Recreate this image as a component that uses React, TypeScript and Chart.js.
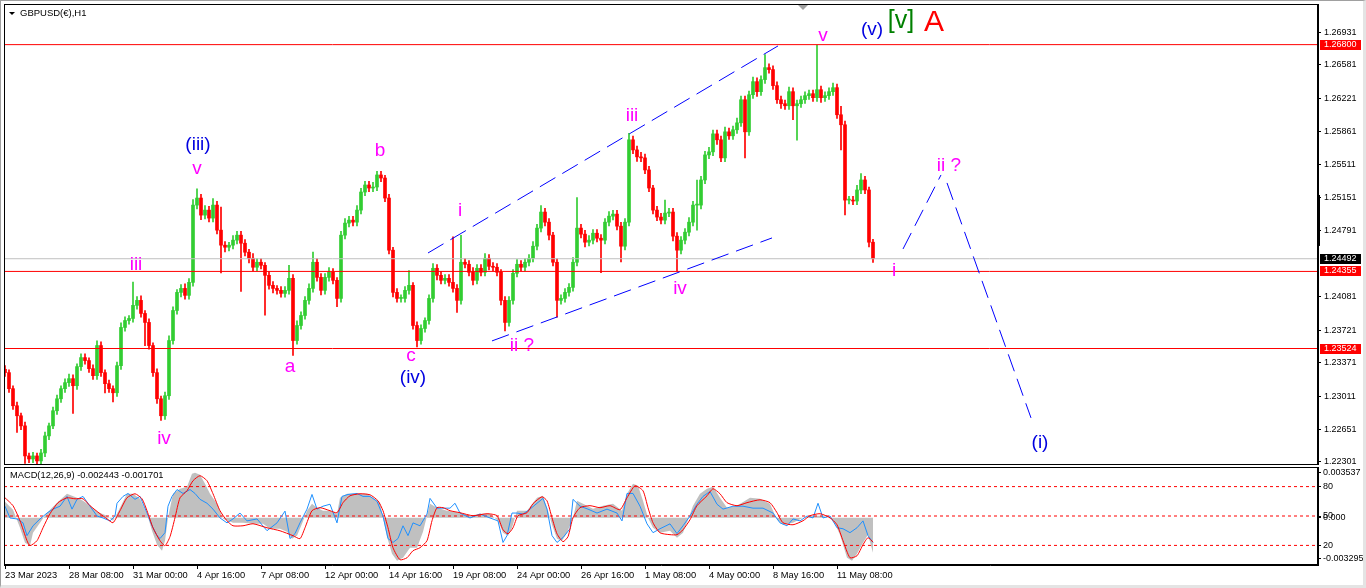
import React, { useEffect, useRef } from 'react';
import { Chart, registerables } from 'chart.js';

Chart.register(...registerables);

const UI_FONT = "'Liberation Sans', Arial, Helvetica, sans-serif";

// ---------------- price data (4-hour candles, hour offset = index * HOURS_PER_BAR) ----------------
const HOURS_PER_BAR = 4;
const PIP = 0.0001;
const firstOpen = 1.233;
const closes = [
  1.23264, 1.23091, 1.22907, 1.22799, 1.2269, 1.22366, 1.22333, 1.22366, 1.22312, 1.22398,
  1.22582, 1.2269, 1.22853, 1.22982, 1.23091, 1.23156, 1.23199, 1.23123, 1.23329, 1.23426,
  1.23394, 1.23307, 1.23231, 1.23556, 1.23264, 1.23145, 1.23091, 1.23047, 1.23339, 1.23751,
  1.23826, 1.23848, 1.23989, 1.24043, 1.23902, 1.23805, 1.23556, 1.23264, 1.22982, 1.22799,
  1.23015, 1.2361, 1.23934, 1.24129, 1.24172, 1.24097, 1.24237, 1.2507, 1.25146, 1.24962,
  1.25016, 1.2493, 1.2507, 1.248, 1.24638, 1.24616, 1.24638, 1.24692, 1.24746, 1.24659,
  1.24562, 1.24497, 1.244, 1.24454, 1.24421, 1.24313, 1.24205, 1.24172, 1.24151, 1.24118,
  1.24151, 1.24281, 1.2361, 1.23772, 1.2388, 1.24043, 1.24172, 1.24454, 1.24291, 1.24151,
  1.24291, 1.24346, 1.24259, 1.24064, 1.24746, 1.24876, 1.24908, 1.24886, 1.25016, 1.25211,
  1.25287, 1.25254, 1.25265, 1.25395, 1.25362, 1.25146, 1.24584, 1.24129, 1.24064, 1.24064,
  1.24151, 1.24205, 1.23772, 1.2361, 1.2374, 1.23826, 1.24064, 1.24389, 1.24313, 1.24259,
  1.24281, 1.24237, 1.24172, 1.24043, 1.24454, 1.24432, 1.24346, 1.24259, 1.24389, 1.24346,
  1.24497, 1.2441, 1.244, 1.24346, 1.24043, 1.23805, 1.24043, 1.24335, 1.24432, 1.244,
  1.24454, 1.24497, 1.24627, 1.24822, 1.24995, 1.24886, 1.24746, 1.24454, 1.24043, 1.24064,
  1.24129, 1.24183, 1.24454, 1.24822, 1.24757, 1.2467, 1.24692, 1.24767, 1.24713, 1.24692,
  1.24886, 1.24951, 1.24973, 1.24843, 1.24627, 1.24886, 1.25774, 1.25665, 1.2559, 1.25579,
  1.25449, 1.25254, 1.25016, 1.24941, 1.24908, 1.24984, 1.24995, 1.24735, 1.24584, 1.24692,
  1.24778, 1.24886, 1.2507, 1.2507, 1.25341, 1.25611, 1.25644, 1.25838, 1.25774, 1.25579,
  1.2586, 1.25817, 1.25882, 1.25957, 1.26206, 1.2586, 1.2626, 1.26401, 1.26293, 1.26423,
  1.26552, 1.26531, 1.26358, 1.26206, 1.26163, 1.26141, 1.26293, 1.26141, 1.26163, 1.26206,
  1.2625, 1.26271, 1.26228, 1.26314, 1.26228, 1.2625, 1.26293, 1.26336, 1.26044, 1.25936,
  1.25124, 1.25124, 1.25114, 1.25233, 1.25341, 1.25233, 1.2467, 1.24492,
];
const upWickPips = [
  4, 3, 3, 4, 3, 4, 3, 4, 3, 4,
  4, 3, 4, 4, 3, 4, 5, 4, 3, 4,
  4, 3, 4, 5, 4, 3, 4, 3, 4, 5,
  4, 3, 25, 4, 5, 3, 4, 3, 4, 3,
  4, 5, 4, 3, 4, 5, 4, 6, 10, 4,
  5, 4, 7, 4, 25, 4, 3, 5, 4, 4,
  4, 3, 5, 4, 4, 3, 4, 4, 3, 4,
  4, 14, 4, 5, 4, 4, 5, 11, 4, 4,
  4, 5, 4, 3, 4, 5, 4, 4, 5, 4,
  4, 4, 5, 4, 4, 3, 4, 3, 4, 4,
  4, 16, 3, 4, 4, 3, 4, 5, 4, 4,
  4, 4, 49, 4, 29, 4, 4, 5, 4, 4,
  5, 4, 4, 4, 3, 4, 4, 4, 5, 4,
  4, 4, 5, 4, 7, 4, 4, 3, 4, 4,
  4, 4, 5, 33, 4, 4, 5, 4, 4, 4,
  4, 5, 4, 4, 4, 4, 7, 4, 4, 5,
  4, 4, 3, 4, 4, 14, 4, 4, 4, 4,
  4, 5, 4, 27, 4, 4, 5, 4, 4, 4,
  5, 4, 4, 5, 4, 4, 4, 5, 4, 4,
  14, 4, 4, 4, 4, 4, 5, 4, 4, 4,
  4, 4, 4, 48, 4, 4, 4, 5, 4, 9,
  4, 4, 4, 5, 7, 4, 3, 3,
];
const downWickPips = [
  4, 4, 4, 18, 4, 8, 4, 4, 4, 4,
  4, 4, 3, 4, 4, 4, 4, 30, 4, 4,
  4, 4, 4, 4, 4, 10, 4, 10, 4, 4,
  4, 4, 4, 4, 4, 25, 4, 4, 5, 5,
  4, 4, 4, 4, 5, 4, 4, 4, 4, 5,
  4, 4, 4, 4, 30, 5, 4, 4, 4, 52,
  4, 5, 4, 4, 4, 43, 4, 5, 4, 4,
  4, 4, 16, 4, 4, 4, 4, 4, 4, 5,
  4, 4, 4, 9, 4, 4, 4, 4, 4, 4,
  4, 4, 4, 4, 4, 4, 4, 5, 4, 4,
  4, 4, 4, 7, 4, 4, 4, 4, 5, 4,
  4, 4, 4, 13, 4, 4, 4, 5, 4, 4,
  4, 4, 4, 4, 5, 9, 4, 4, 4, 4,
  4, 4, 4, 4, 4, 4, 5, 4, 18, 4,
  4, 4, 4, 4, 4, 5, 4, 4, 4, 35,
  4, 4, 4, 4, 17, 4, 4, 4, 5, 4,
  4, 4, 4, 4, 4, 4, 4, 5, 22, 4,
  4, 4, 4, 27, 4, 4, 4, 4, 5, 4,
  4, 4, 4, 4, 4, 28, 4, 4, 5, 4,
  4, 4, 4, 4, 5, 4, 4, 15, 37, 4,
  4, 4, 4, 4, 5, 4, 4, 4, 4, 27,
  16, 4, 4, 4, 4, 4, 5, 4,
];

// right price axis
const priceTicks = [1.26931, 1.26581, 1.26221, 1.25861, 1.25511, 1.25151, 1.24791, 1.24081, 1.23721, 1.23371, 1.23011, 1.22651, 1.22301];
const levelPrices = [1.268, 1.24355, 1.23524];
const bidPrice = 1.24492;
const axisMarkerPrices = [1.2463, 1.25179];

// time axis (hour offsets from the first bar)
const timeTickHours = [0, 64, 128, 192, 256, 320, 384, 448, 512, 576, 640, 704, 768, 832];
const timeTickLabels = ['23 Mar 2023', '28 Mar 08:00', '31 Mar 00:00', '4 Apr 16:00', '7 Apr 08:00', '12 Apr 00:00', '14 Apr 16:00', '19 Apr 08:00', '24 Apr 00:00', '26 Apr 16:00', '1 May 08:00', '4 May 00:00', '8 May 16:00', '11 May 08:00'];

// trend / projection lines
const upperChannelHours = [423, 773];
const upperChannelPrices = [1.24554, 1.26786];
const lowerChannelHours = [487, 767];
const lowerChannelPrices = [1.23606, 1.24716];
const projectionUpHours = [898, 936];
const projectionUpPrices = [1.24597, 1.25395];
const projectionDownHours = [942, 1026];
const projectionDownPrices = [1.25309, 1.22776];

// Elliott wave labels
const waveLabelTexts = ['(iii)', 'v', 'iii', 'iv', 'b', 'a', 'c', '(iv)', 'i', 'ii ?', 'iii', 'iv', 'v', '(v)', '[v]', 'A', 'i', 'ii ?', '(i)'];
const waveLabelHours = [193, 192, 131, 159, 375, 285, 406, 408, 455, 517, 627, 675, 818, 867, 896, 929, 889, 944, 1035];
const waveLabelPrices = [1.25718, 1.2546, 1.24425, 1.22549, 1.25654, 1.23325, 1.23444, 1.23207, 1.25007, 1.23552, 1.26031, 1.24166, 1.26893, 1.26958, 1.27055, 1.27033, 1.2436, 1.25492, 1.22506];
const waveLabelDegrees = ['minor', 'minute', 'minute', 'minute', 'minute', 'minute', 'minute', 'minor', 'minute', 'minute', 'minute', 'minute', 'minute', 'minor', 'intermediate', 'primary', 'minute', 'minute', 'minor'];

// ---------------- MACD sub-window ----------------
const histHours = [0, 8, 15, 20, 25, 28, 35, 42, 52, 62, 72, 78, 85, 92, 102, 108, 113, 122, 128, 135, 142, 147, 152, 157, 160, 163, 168, 175, 182, 187, 190, 195, 200, 205, 212, 218, 228, 238, 248, 258, 265, 275, 282, 287, 292, 297, 302, 307, 312, 318, 325, 332, 335, 342, 348, 355, 362, 368, 375, 378, 382, 387, 392, 398, 405, 412, 418, 425, 432, 442, 455, 465, 475, 485, 493, 498, 503, 507, 512, 522, 532, 538, 543, 547, 552, 557, 562, 568, 572, 578, 588, 598, 608, 617, 622, 628, 633, 638, 643, 648, 655, 665, 672, 678, 683, 688, 695, 702, 708, 715, 722, 732, 745, 755, 765, 772, 778, 788, 798, 808, 818, 828, 835, 842, 847, 852, 858, 863, 868];
const histValues = [0.00112, 0.00056, -0.0007, -0.00174, -0.00195, -0.00105, -0.00035, 0.00035, 0.00105, 0.00167, 0.00139, 0.00118, 0.00084, 0.00042, 0.00014, -0.00021, 0.00042, 0.00167, 0.00167, 0.00132, 0.00028, -0.00091, -0.00188, -0.0023, -0.0016, 0, 0.00167, 0.00202, 0.00216, 0.00307, 0.00314, 0.003, 0.00237, 0.00167, 0.00098, -0.00007, -0.00035, -0.00035, -0.00042, -0.00042, -0.00077, -0.00077, -0.00098, -0.00146, -0.00125, -0.00042, 0.00049, 0.00098, 0.0007, 0.00049, 0.00049, 0.00028, 0.00139, 0.00167, 0.00167, 0.00167, 0.00167, 0.00139, 0.00105, 0, -0.00132, -0.00251, -0.003, -0.00279, -0.00209, -0.00209, -0.00098, 0.00098, 0.0007, 0.00049, 0.00035, 0.00014, 0.00028, 0.00028, -0.00021, -0.00105, -0.00125, -0.0007, 0.00049, 0.00049, 0.00139, 0.00153, 0.00049, -0.00049, -0.00146, -0.0016, -0.00105, 0, 0.00118, 0.00098, 0.00063, 0.00084, 0.00098, 0.00049, 0.00167, 0.00237, 0.00223, 0.00118, 0, -0.0007, -0.00105, -0.00091, -0.00139, -0.00105, -0.00014, 0.00084, 0.00167, 0.00202, 0.00216, 0.00139, 0.0007, 0.00084, 0.00139, 0.00132, 0.00098, -0.00014, -0.00049, -0.00035, 0, 0.00014, 0.00014, -0.00014, -0.00118, -0.00279, -0.003, -0.00251, -0.00174, -0.00118, -0.002443];
const signalHours = [0, 8, 15, 22, 25, 32, 38, 45, 53, 62, 70, 78, 85, 95, 102, 108, 115, 122, 130, 137, 142, 148, 155, 160, 165, 170, 175, 182, 188, 195, 202, 208, 215, 222, 228, 238, 248, 262, 275, 288, 295, 300, 307, 315, 325, 332, 338, 345, 355, 365, 373, 378, 383, 388, 395, 402, 408, 415, 422, 427, 432, 438, 445, 455, 468, 482, 492, 498, 503, 508, 513, 522, 528, 537, 542, 547, 552, 558, 563, 568, 575, 585, 595, 605, 615, 622, 630, 638, 643, 648, 655, 665, 672, 678, 685, 692, 702, 708, 715, 722, 732, 742, 755, 765, 772, 778, 788, 798, 805, 815, 825, 832, 838, 845, 852, 858, 863, 868];
const signalValues = [0.00139, 0.00084, -0.00021, -0.0016, -0.00195, -0.0016, -0.0007, 0.00028, 0.00105, 0.00139, 0.00132, 0.00132, 0.00084, 0.00028, -0.00007, -0.00035, 0.00049, 0.00139, 0.00167, 0.00132, 0.00049, -0.0007, -0.0016, -0.00195, -0.00132, 0, 0.00139, 0.00188, 0.00258, 0.00293, 0.00258, 0.00167, 0.00049, -0.00021, -0.00056, -0.00056, -0.00042, -0.0007, -0.00091, -0.00125, -0.00146, -0.0007, 0.00049, 0.0007, 0.00049, 0.00035, 0.00105, 0.00153, 0.00167, 0.0016, 0.00118, 0.00049, -0.0007, -0.00209, -0.00293, -0.00279, -0.0023, -0.00209, -0.0016, -0.00021, 0.0007, 0.0007, 0.00049, 0.00035, 0.00014, 0.00028, 0.00014, -0.00084, -0.00112, -0.0007, 0.00014, 0.00035, 0.00098, 0.00146, 0.00118, 0, -0.00112, -0.00167, -0.00132, 0, 0.0007, 0.00084, 0.0007, 0.00084, 0.00056, 0.00139, 0.00223, 0.00188, 0.0007, -0.00035, -0.00105, -0.00118, -0.00118, -0.00084, -0.00014, 0.00084, 0.00153, 0.00202, 0.00167, 0.00105, 0.00084, 0.00105, 0.00125, 0.00105, 0.00035, -0.00035, -0.00049, -0.00021, 0.00014, 0.00028, 0, -0.00049, -0.0016, -0.00279, -0.00265, -0.00188, -0.00139, -0.001701];
const oscHours = [0, 5, 12, 18, 22, 28, 35, 42, 48, 55, 62, 67, 72, 78, 85, 92, 98, 105, 110, 112, 118, 123, 130, 135, 142, 147, 152, 155, 160, 163, 167, 172, 178, 185, 190, 195, 202, 208, 215, 222, 228, 235, 242, 252, 262, 272, 280, 285, 290, 295, 302, 307, 312, 318, 325, 332, 337, 343, 352, 358, 365, 372, 378, 383, 388, 393, 398, 403, 408, 415, 422, 425, 432, 438, 445, 450, 455, 465, 475, 485, 493, 498, 502, 507, 512, 518, 525, 532, 538, 542, 547, 552, 558, 565, 568, 575, 583, 592, 602, 612, 617, 622, 628, 635, 642, 648, 655, 665, 672, 678, 685, 692, 698, 705, 712, 718, 728, 738, 748, 758, 768, 775, 782, 788, 795, 802, 808, 813, 818, 825, 832, 838, 845, 852, 858, 863, 868];
const oscValues = [60, 48, 47, 43, 30, 40, 47, 53, 57, 60, 70, 57, 67, 70, 60, 50, 48, 45, 50, 63, 70, 73, 67, 70, 53, 40, 30, 27, 33, 60, 70, 77, 73, 77, 73, 67, 63, 57, 48, 43, 47, 53, 45, 47, 35, 43, 55, 27, 32, 43, 57, 72, 57, 60, 62, 43, 70, 72, 73, 70, 70, 65, 50, 27, 23, 27, 40, 30, 43, 40, 52, 68, 58, 58, 58, 63, 53, 48, 52, 48, 45, 23, 30, 53, 53, 52, 57, 63, 68, 57, 30, 23, 28, 37, 67, 60, 57, 53, 57, 53, 45, 73, 73, 60, 42, 33, 37, 42, 32, 40, 50, 62, 70, 75, 62, 57, 60, 60, 58, 58, 53, 43, 40, 47, 45, 50, 48, 63, 48, 50, 38, 37, 33, 38, 45, 30, 23];
const oscLevels = [80, 50, 20];
const subTickValues = [94, 80, 50, 48.2, 20, 7];
const subTickLabels = ['0.003537', '80', '50', '0.000', '20', '-0.003295'];

// ---------------- layout constants ----------------
const X_MIN = -1;
const X_MAX = 1313;
const Y_MIN = 1.22279;
const Y_MAX = 1.27238;
const MACD_MIN = -0.003295;
const MACD_MAX = 0.003537;
const BULL = '#32CD32';
const BEAR = '#FF0000';

const degreeStyle: Record<string, { color: string; size: number }> = {
  minute: { color: '#FF00FF', size: 19 },
  minor: { color: '#0000E0', size: 19 },
  intermediate: { color: '#008000', size: 25 },
  primary: { color: '#FF0000', size: 30 },
};

function pairs(xs: number[], ys: number[]) {
  return xs.map((x, i) => ({ x, y: ys[i] }));
}

function hLine(y: number, color: string, axis: string, dash: number[], order: number) {
  return {
    type: 'line' as const,
    data: [{ x: X_MIN, y }, { x: X_MAX, y }],
    borderColor: color,
    borderWidth: 1,
    borderDash: dash,
    pointRadius: 0,
    yAxisID: axis,
    order,
  };
}

function trend(xs: number[], ys: number[]) {
  return {
    type: 'line' as const,
    data: pairs(xs, ys),
    borderColor: '#0000FF',
    borderWidth: 1,
    borderDash: [18, 8],
    pointRadius: 0,
    yAxisID: 'y',
    order: 1,
  };
}

function buildCandles() {
  const bodies: any[] = [];
  const wicks: any[] = [];
  const colors: string[] = [];
  let open = firstOpen;
  closes.forEach((c, i) => {
    const x = i * HOURS_PER_BAR;
    const hi = Math.max(open, c) + upWickPips[i] * PIP;
    const lo = Math.min(open, c) - downWickPips[i] * PIP;
    bodies.push({ x, y: [open, c] });
    wicks.push({ x, y: [lo, hi] });
    colors.push(c >= open ? BULL : BEAR);
    open = c;
  });
  return { bodies, wicks, colors };
}

function noEdgePadding(s: any) {
  s.paddingTop = 0;
  s.paddingBottom = 0;
  s.paddingLeft = 0;
  s.paddingRight = 0;
}

const mainDecor = {
  id: 'mainDecor',
  afterDatasetsDraw(chart: any) {
    const { ctx, scales } = chart;
    ctx.save();
    ctx.textAlign = 'center';
    ctx.textBaseline = 'middle';
    waveLabelTexts.forEach((t, i) => {
      const st = degreeStyle[waveLabelDegrees[i]];
      ctx.fillStyle = st.color;
      ctx.font = `${st.size}px ${UI_FONT}`;
      ctx.fillText(t, scales.x.getPixelForValue(waveLabelHours[i]), scales.y.getPixelForValue(waveLabelPrices[i]));
    });
    ctx.restore();
  },
  afterDraw(chart: any) {
    const { ctx, chartArea: a, scales } = chart;
    ctx.save();
    // frame
    ctx.strokeStyle = '#000';
    ctx.lineWidth = 1;
    ctx.strokeRect(a.left + 0.5, a.top + 0.5, a.right - a.left - 1, a.bottom - a.top);
    // title
    ctx.fillStyle = '#000';
    ctx.beginPath();
    ctx.moveTo(a.left + 5, a.top + 8);
    ctx.lineTo(a.left + 11, a.top + 8);
    ctx.lineTo(a.left + 8, a.top + 11);
    ctx.closePath();
    ctx.fill();
    ctx.font = `9.5px ${UI_FONT}`;
    ctx.textBaseline = 'middle';
    ctx.textAlign = 'left';
    ctx.fillText('GBPUSD(€),H1', a.left + 16, a.top + 9.5);
    // shift marker
    const sx = scales.x.getPixelForValue(798);
    ctx.fillStyle = '#A0A0A0';
    ctx.beginPath();
    ctx.moveTo(sx - 5, a.top + 1);
    ctx.lineTo(sx + 5, a.top + 1);
    ctx.lineTo(sx, a.top + 6);
    ctx.closePath();
    ctx.fill();
    // axis marker bar
    const y1 = scales.y.getPixelForValue(axisMarkerPrices[1]);
    const y2 = scales.y.getPixelForValue(axisMarkerPrices[0]);
    ctx.fillStyle = '#000';
    ctx.fillRect(a.right - 1, y1, 3, y2 - y1);
    // price boxes
    const boxes = [...levelPrices.map((p) => ({ p, bg: '#FF0000' })), { p: bidPrice, bg: '#000000' }];
    ctx.font = `9px ${UI_FONT}`;
    boxes.forEach(({ p, bg }) => {
      const y = Math.round(scales.y.getPixelForValue(p));
      ctx.fillStyle = bg;
      ctx.fillRect(a.right + 2, y - 5, 41, 10);
      ctx.fillStyle = '#FFFFFF';
      ctx.fillText(p.toFixed(5), a.right + 6, y);
    });
    ctx.restore();
  },
};

const subDecor = {
  id: 'subDecor',
  afterDraw(chart: any) {
    const { ctx, chartArea: a } = chart;
    ctx.save();
    ctx.strokeStyle = '#000';
    ctx.lineWidth = 1;
    ctx.strokeRect(a.left + 0.5, a.top + 0.5, a.right - a.left - 1, a.bottom - a.top - 1);
    ctx.fillStyle = '#000';
    ctx.font = `9.3px ${UI_FONT}`;
    ctx.textBaseline = 'middle';
    ctx.textAlign = 'left';
    const h = histValues[histValues.length - 1].toFixed(6);
    const s = signalValues[signalValues.length - 1].toFixed(6);
    ctx.fillText(`MACD(12,26,9) ${h} ${s}`, a.left + 6, a.top + 8);
    ctx.restore();
  },
};

export default function App() {
  const mainRef = useRef<HTMLCanvasElement>(null);
  const subRef = useRef<HTMLCanvasElement>(null);

  useEffect(() => {
    const { bodies, wicks, colors } = buildCandles();
    const axisFont = { family: UI_FONT, size: 9 };

    const main = new Chart(mainRef.current as HTMLCanvasElement, {
      type: 'bar',
      data: {
        datasets: [
          trend(upperChannelHours, upperChannelPrices),
          trend(lowerChannelHours, lowerChannelPrices),
          trend(projectionUpHours, projectionUpPrices),
          trend(projectionDownHours, projectionDownPrices),
          ...levelPrices.map((p) => hLine(p, '#FF0000', 'y', [], 3)),
          hLine(bidPrice, '#C0C0C0', 'y', [], 3),
          {
            type: 'bar',
            data: bodies,
            backgroundColor: colors,
            barThickness: 3,
            minBarLength: 1,
            grouped: false,
            order: 4,
          } as any,
          {
            type: 'bar',
            data: wicks,
            backgroundColor: colors,
            barThickness: 1,
            grouped: false,
            order: 5,
          } as any,
        ] as any,
      },
      options: {
        animation: false,
        responsive: false,
        devicePixelRatio: 1,
        events: [],
        layout: { padding: { left: 4, top: 4, right: 0, bottom: 6 } },
        plugins: { legend: { display: false }, tooltip: { enabled: false } },
        scales: {
          x: { type: 'linear', min: X_MIN, max: X_MAX, display: false, offset: false, grid: { display: false } },
          y: {
            type: 'linear',
            position: 'right',
            min: Y_MIN,
            max: Y_MAX,
            afterFit: (s: any) => { s.width = 48; noEdgePadding(s); },
            afterBuildTicks: (s: any) => { s.ticks = priceTicks.map((v) => ({ value: v })); },
            ticks: { autoSkip: false, padding: 3, color: '#000', font: axisFont, callback: (v: any) => Number(v).toFixed(5) },
            grid: { drawOnChartArea: false, drawTicks: true, tickLength: 3, color: '#000' },
            border: { display: true, color: '#000' },
          },
        },
      } as any,
      plugins: [mainDecor],
    });

    const sub = new Chart(subRef.current as HTMLCanvasElement, {
      type: 'line',
      data: {
        datasets: [
          {
            data: pairs(histHours, histValues),
            yAxisID: 'macd',
            borderWidth: 0,
            borderColor: 'rgba(0,0,0,0)',
            backgroundColor: '#C0C0C0',
            fill: 'origin',
            pointRadius: 0,
            tension: 0,
            order: 5,
          },
          ...oscLevels.map((v) => hLine(v, '#FF0000', 'osc', [3, 3], 4)),
          {
            data: pairs(oscHours, oscValues),
            yAxisID: 'osc',
            borderColor: '#1E90FF',
            borderWidth: 1,
            pointRadius: 0,
            tension: 0,
            fill: false,
            order: 3,
          },
          {
            data: pairs(signalHours, signalValues),
            yAxisID: 'macd',
            borderColor: '#FF0000',
            borderWidth: 1,
            pointRadius: 0,
            tension: 0.2,
            fill: false,
            order: 2,
          },
        ] as any,
      },
      options: {
        animation: false,
        responsive: false,
        devicePixelRatio: 1,
        events: [],
        layout: { padding: { left: 4, top: 1, right: 0, bottom: 0 } },
        plugins: { legend: { display: false }, tooltip: { enabled: false } },
        scales: {
          x: {
            type: 'linear',
            position: 'bottom',
            min: X_MIN,
            max: X_MAX,
            offset: false,
            afterFit: (s: any) => { s.height = 23; noEdgePadding(s); },
            afterBuildTicks: (s: any) => { s.ticks = timeTickHours.map((v) => ({ value: v })); },
            ticks: {
              autoSkip: false,
              maxRotation: 0,
              align: 'start',
              padding: 1,
              color: '#000',
              font: { family: UI_FONT, size: 9.3 },
              callback: (v: any) => timeTickLabels[timeTickHours.indexOf(Number(v))],
            },
            grid: { drawOnChartArea: false, drawTicks: true, tickLength: 4, color: '#000' },
            border: { display: true, color: '#000' },
          },
          osc: {
            type: 'linear',
            position: 'right',
            min: 0,
            max: 100,
            afterFit: (s: any) => { s.width = 48; noEdgePadding(s); },
            afterBuildTicks: (s: any) => { s.ticks = subTickValues.map((v) => ({ value: v })); },
            ticks: {
              autoSkip: false,
              padding: 2,
              color: '#000',
              font: axisFont,
              callback: (v: any) => subTickLabels[subTickValues.indexOf(Number(v))],
            },
            grid: { drawOnChartArea: false, drawTicks: true, tickLength: 3, color: '#000' },
            border: { display: true, color: '#000' },
          },
          macd: { type: 'linear', display: false, min: MACD_MIN, max: MACD_MAX },
        },
      } as any,
      plugins: [subDecor],
    });

    return () => {
      main.destroy();
      sub.destroy();
    };
  }, []);

  return (
    <div style={{ position: 'absolute', left: 0, top: 0, width: 1366, height: 588, background: '#FFFFFF', overflow: 'hidden' }}>
      <canvas ref={mainRef} width={1366} height={470} style={{ position: 'absolute', left: 0, top: 0, width: 1366, height: 470 }} />
      <canvas ref={subRef} width={1366} height={122} style={{ position: 'absolute', left: 0, top: 466, width: 1366, height: 122 }} />
      <div
        style={{
          position: 'absolute',
          left: 0,
          top: 0,
          width: 1366,
          height: 588,
          boxSizing: 'border-box',
          borderTop: '1px solid #A0A0A0',
          borderLeft: '1px solid #A0A0A0',
          borderRight: '3px solid #E4E4E4',
          borderBottom: '3px solid #E4E4E4',
          pointerEvents: 'none',
        }}
      />
    </div>
  );
}
